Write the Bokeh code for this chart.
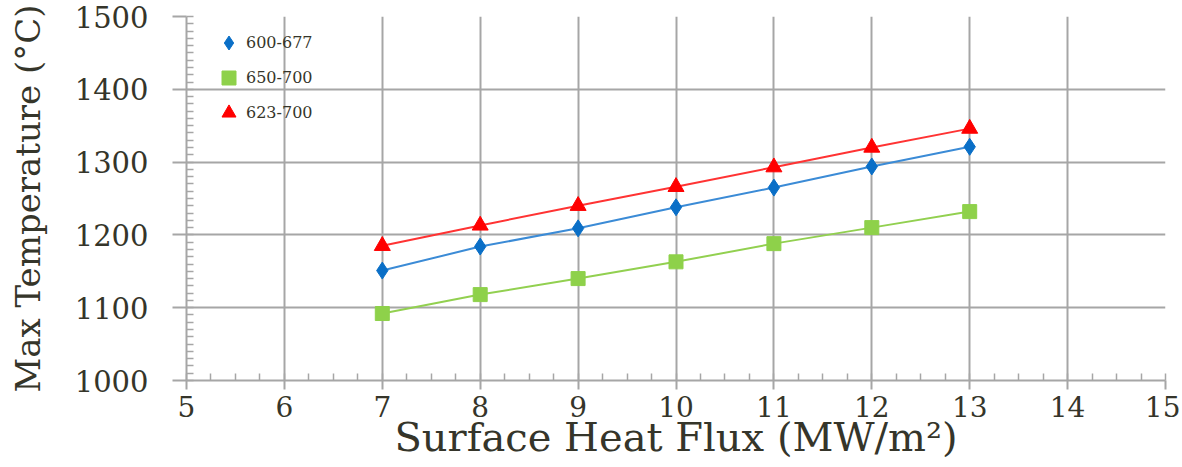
from bokeh.plotting import figure
from bokeh.embed import file_html
from bokeh.resources import INLINE
from bokeh.models import Legend, LegendItem, FixedTicker, Range1d

flux = [7, 8, 9, 10, 11, 12, 13]
s_600_677 = [1151, 1184, 1209, 1238, 1265, 1294, 1321]
s_650_700 = [1092, 1118, 1140, 1163, 1188, 1210, 1232]
s_623_700 = [1185, 1213, 1240, 1266, 1293, 1320, 1346]
x_ticks = [5, 6, 7, 8, 9, 10, 11, 12, 13, 14, 15]
y_ticks = [1000, 1100, 1200, 1300, 1400, 1500]

FONT = "DejaVu Serif"
TXT = "#35352a"
GRID = "#a6a6a6"

p = figure(width=1180, height=466, output_backend="svg", toolbar_location=None,
           x_range=Range1d(5, 15), y_range=Range1d(1000, 1500),
           min_border_left=186, min_border_right=15, min_border_top=16, min_border_bottom=86)
p.outline_line_color = None
p.background_fill_color = "white"
p.border_fill_color = "white"

for ax in (p.xaxis[0], p.yaxis[0]):
    ax.axis_line_color = GRID
    ax.axis_line_width = 2
    ax.major_tick_line_color = GRID
    ax.major_tick_line_width = 2
    ax.minor_tick_line_color = GRID
    ax.minor_tick_line_width = 1.5
    ax.major_tick_in = 0
    ax.minor_tick_in = 7
    ax.minor_tick_out = 0
    ax.major_label_text_font = FONT
    ax.major_label_text_color = TXT
    ax.axis_label_text_font = FONT
    ax.axis_label_text_color = TXT
    ax.axis_label_text_font_style = "normal"

p.xaxis.ticker = FixedTicker(ticks=x_ticks, minor_ticks=[5 + 0.25 * i for i in range(41)])
p.yaxis.ticker = FixedTicker(ticks=y_ticks, minor_ticks=[1000 + 10 * i for i in range(51)])
p.xaxis.major_tick_out = 9
p.yaxis.major_tick_out = 14
p.xaxis.major_label_text_font_size = "28px"
p.yaxis.major_label_text_font_size = "29px"
p.xaxis.major_label_standoff = 6
p.yaxis.major_label_standoff = 24
p.yaxis.axis_label = "Max Temperature (°C)"
p.yaxis.axis_label_text_font_size = "34px"
p.yaxis.axis_label_standoff = 24
p.xaxis.axis_label = "Surface Heat Flux (MW/m²)"
p.xaxis.axis_label_text_font_size = "40px"
p.xaxis.axis_label_standoff = -6

p.xgrid.ticker = FixedTicker(ticks=x_ticks)
p.ygrid.ticker = FixedTicker(ticks=y_ticks)
p.grid.grid_line_color = GRID
p.grid.grid_line_width = 2

l1 = p.line(flux, s_600_677, line_color="#3b8bd6", line_width=2)
m1 = p.scatter(flux, s_600_677, marker="diamond", size=17, fill_color="#0a6fc7", line_color="#0a6fc7")
l2 = p.line(flux, s_650_700, line_color="#92d050", line_width=2)
m2 = p.scatter(flux, s_650_700, marker="square", size=14, fill_color="#8ed14a", line_color="#8ed14a")
l3 = p.line(flux, s_623_700, line_color="#ff3333", line_width=2)
m3 = p.scatter(flux, s_623_700, marker="triangle", size=16, fill_color="#ff0000", line_color="#ff0000")

legend = Legend(items=[LegendItem(label="600-677", renderers=[m1]),
                       LegendItem(label="650-700", renderers=[m2]),
                       LegendItem(label="623-700", renderers=[m3])],
                location=(25, 250), margin=0, padding=0, spacing=0,
                glyph_width=35, glyph_height=35, label_height=35, label_standoff=0,
                label_text_font=FONT, label_text_font_size="16px", label_text_color=TXT,
                border_line_color=None, background_fill_alpha=0)
p.add_layout(legend, "center")

open("out.html", "w").write(file_html(p, INLINE))
